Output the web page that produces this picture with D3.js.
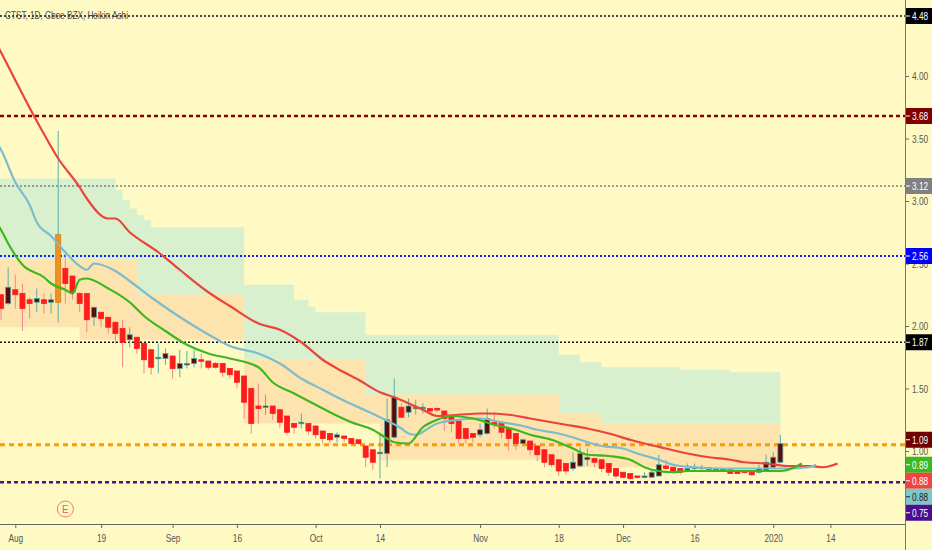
<!DOCTYPE html>
<html><head><meta charset="utf-8">
<script src="https://cdn.jsdelivr.net/npm/d3@7/dist/d3.min.js"></script>
<style>
html,body{margin:0;padding:0;background:#fff9c4;overflow:hidden}
svg{display:block}
text{font-family:'Liberation Sans',Arimo,sans-serif}
</style></head><body>
<svg id="c" width="932" height="550"></svg>
<script>
// ---------- DATA ----------
const title = "CTST, 1D, Cboe BZX, Heikin Ashi";
const holidays = ["2019-09-02","2019-11-28","2019-12-25","2020-01-01"];
const tickDates  = ["2019-08-01","2019-08-19","2019-09-03","2019-09-16","2019-10-01","2019-10-14","2019-11-01","2019-11-18","2019-12-02","2019-12-16","2020-01-02","2020-01-14"];
const tickLabels = ["Aug","19","Sep","16","Oct","14","Nov","18","Dec","16","2020","14"];
const priceTicks = [1.00,1.50,2.00,2.50,3.00,3.50,4.00];

// Heikin Ashi candles, one per trading day from 2019-07-30
const haOpen  = [2.25,2.18,2.29,2.26,2.21,2.19,2.21,2.19,2.19,2.46,2.40,2.26,2.26,2.07,2.11,2.07,2.03,1.98,1.89,1.91,1.86,1.81,1.74,1.74,1.76,1.66,1.69,1.70,1.73,1.72,1.70,1.70,1.66,1.64,1.60,1.50,1.36,1.35,1.36,1.33,1.28,1.22,1.22,1.22,1.20,1.16,1.14,1.11,1.12,1.10,1.09,1.04,1.01,0.98,0.98,1.11,1.35,1.31,1.34,1.34,1.34,1.34,1.32,1.28,1.24,1.18,1.14,1.13,1.14,1.23,1.22,1.18,1.14,1.06,1.08,1.04,1.01,0.97,0.93,0.90,0.86,0.88,0.93,0.94,0.93,0.90,0.86,0.83,0.82,0.80,0.79,0.79,0.80,0.88,0.87,0.86,0.85,0.86,0.86,0.865,0.86,0.86,0.85,0.84,0.84,0.83,0.83,0.84,0.87,0.91];
const haHigh  = [2.25,2.47,2.41,2.34,2.23,2.30,2.26,2.26,3.56,2.58,2.40,2.27,2.26,2.15,2.11,2.07,2.03,2.05,1.99,1.91,1.86,1.81,1.86,1.82,1.76,1.81,1.80,1.81,1.78,1.72,1.71,1.70,1.66,1.64,1.60,1.50,1.54,1.45,1.36,1.33,1.28,1.22,1.30,1.22,1.20,1.16,1.14,1.15,1.12,1.10,1.09,1.04,1.01,1.14,1.42,1.58,1.38,1.42,1.41,1.38,1.34,1.35,1.32,1.28,1.24,1.18,1.14,1.22,1.34,1.31,1.22,1.18,1.14,1.10,1.08,1.04,1.01,0.97,0.93,0.90,0.99,1.03,1.02,0.94,0.93,0.90,0.86,0.83,0.82,0.80,0.83,0.84,0.97,0.93,0.87,0.86,0.90,0.90,0.89,0.87,0.87,0.86,0.85,0.84,0.84,0.83,0.89,0.97,0.99,1.13];
const haLow   = [2.05,2.17,2.14,1.96,2.06,2.11,2.10,2.10,2.03,2.18,2.21,2.11,1.95,2.00,1.99,1.94,1.86,1.67,1.83,1.78,1.62,1.61,1.62,1.69,1.58,1.59,1.66,1.67,1.66,1.65,1.66,1.59,1.58,1.50,1.26,1.14,1.22,1.29,1.25,1.18,1.13,1.14,1.18,1.13,1.10,1.06,1.06,1.07,1.07,1.05,1.05,0.87,0.85,0.78,0.87,1.10,1.27,1.27,1.29,1.30,1.31,1.31,1.16,1.15,1.06,1.06,1.07,1.11,1.13,1.18,1.10,1.00,1.01,1.05,0.97,0.92,0.87,0.87,0.80,0.81,0.84,0.87,0.88,0.87,0.83,0.80,0.78,0.78,0.77,0.78,0.78,0.79,0.80,0.85,0.82,0.81,0.84,0.84,0.85,0.83,0.84,0.84,0.82,0.82,0.82,0.80,0.82,0.83,0.86,0.90];
const haClose = [2.14,2.31,2.25,2.14,2.18,2.22,2.18,2.21,2.73,2.34,2.27,2.18,2.05,2.15,2.06,1.99,1.94,1.87,1.93,1.82,1.73,1.67,1.75,1.78,1.66,1.70,1.70,1.74,1.72,1.67,1.67,1.63,1.61,1.55,1.39,1.22,1.34,1.36,1.30,1.23,1.15,1.19,1.23,1.16,1.13,1.10,1.09,1.13,1.10,1.06,1.06,0.95,0.91,0.99,1.25,1.43,1.27,1.36,1.35,1.35,1.32,1.33,1.26,1.22,1.10,1.10,1.11,1.17,1.26,1.21,1.15,1.10,1.06,1.09,1.01,0.97,0.91,0.89,0.84,0.84,0.91,0.98,0.95,0.91,0.86,0.83,0.80,0.79,0.78,0.79,0.80,0.83,0.89,0.86,0.83,0.83,0.86,0.87,0.87,0.855,0.85,0.85,0.82,0.82,0.83,0.81,0.86,0.91,0.95,1.06];
const highlightBar = 8; // bar painted orange

// displaced moving averages (bar index, value)
const jawIdx  = [-1,0,5,8,11,12,15,16,18,22,25,29,32,36,39,42,45,47,50,53,55,59,61,64,67,68,71,74,76,79,82,85,88,90,93,96,99,102,104,107,110,113,115,117];
const jawVal  = [4.30,4.19,3.64,3.34,3.11,3.02,2.86,2.86,2.75,2.59,2.45,2.27,2.16,2.02,1.97,1.87,1.73,1.66,1.57,1.47,1.43,1.33,1.28,1.29,1.30,1.30,1.29,1.26,1.24,1.21,1.18,1.14,1.09,1.06,1.02,0.98,0.95,0.93,0.91,0.90,0.88,0.88,0.87,0.90];
const teethIdx = [-1,0,2,4,5,7,9,11,12,13,16,18,21,24,27,30,32,36,39,42,45,47,50,53,56,57,58,60,61,64,67,70,73,75,78,81,84,87,89,92,94,97,101,104,107,110,113,114];
const teethVal = [3.50,3.41,3.15,2.97,2.83,2.72,2.59,2.48,2.45,2.50,2.44,2.36,2.23,2.11,2.00,1.90,1.84,1.78,1.70,1.58,1.49,1.43,1.35,1.27,1.18,1.14,1.13,1.19,1.22,1.25,1.26,1.23,1.20,1.17,1.14,1.09,1.04,1.02,0.98,0.93,0.89,0.87,0.86,0.86,0.86,0.86,0.87,0.89];
const lipsIdx = [-1,0,1,3,6,7,9,10,11,12,15,18,20,23,26,29,32,36,38,41,44,46,49,52,54,55,57,59,61,63,66,69,72,74,77,80,82,85,88,90,91,94,96,100,103,106,109,111,112];
const lipsVal = [2.86,2.77,2.66,2.49,2.39,2.34,2.29,2.26,2.37,2.38,2.30,2.19,2.08,1.96,1.85,1.78,1.74,1.67,1.55,1.46,1.37,1.31,1.23,1.17,1.10,1.07,1.06,1.19,1.25,1.28,1.26,1.21,1.17,1.13,1.09,1.02,0.97,0.96,0.93,0.87,0.85,0.83,0.84,0.84,0.84,0.84,0.84,0.87,0.90];

// channel bands (step lines)
const bandIdx   = [-1,11,15,16,17,18,19,20,21,34,41,43,44,51,53,78,81,84,95,102,109];
const bandUpper = [3.18,3.18,3.18,3.09,3.01,2.94,2.89,2.85,2.79,2.33,2.21,2.15,2.11,1.93,1.93,1.77,1.71,1.67,1.65,1.63,1.62];
const bandMid   = [2.53,2.53,2.53,2.53,2.53,2.53,2.25,2.25,2.25,1.73,1.73,1.73,1.73,1.45,1.45,1.30,1.30,1.22,1.22,1.22,1.22];
const bandLower = [1.99,1.89,1.89,1.89,1.89,1.89,1.89,1.89,1.89,1.22,1.22,1.22,1.22,1.22,0.93,0.87,0.87,0.87,0.87,0.87,0.87];

// horizontal levels
const levelValues = [4.48,3.68,3.12,2.56,1.87,1.05,0.75];
const levelNames  = ["black","darkred","gray","blue","black2","orange","purple"];

// right-hand price labels
const tagValues = [4.48,3.68,3.12,2.56,1.87,1.09,0.89,0.88,0.88,0.75];
const tagTexts  = ["4.48","3.68","3.12","2.56","1.87","1.09","0.89","0.88","0.88","0.75"];
const tagNames  = ["black","darkred","gray","blue","black2","last","lips","jaw","teeth","purple"];
const earningsBar = 9;

// ---------- STYLE ----------
const W = 932, H = 550, plotR = 905, plotB = 524;
const SQUEEZE = 0.72;
const levelStyle = {
  black:{c:"#111",w:1.5,d:"2,2"}, darkred:{c:"#8b0000",w:2.5,d:"4,3"}, gray:{c:"#7d7d7d",w:1.5,d:"2,2"},
  blue:{c:"#1515ff",w:2,d:"2,2"}, black2:{c:"#111",w:1.5,d:"2,2"}, orange:{c:"#ff9a00",w:3,d:"5,4"},
  purple:{c:"#4a1486",w:2.5,d:"4,3"}
};
const tagStyle = {
  black:{bg:"#000",fg:"#fff"}, darkred:{bg:"#800000",fg:"#fff"}, gray:{bg:"#808080",fg:"#fff"},
  blue:{bg:"#0000ff",fg:"#fff"}, black2:{bg:"#000",fg:"#fff"}, last:{bg:"#6e0000",fg:"#fff"},
  lips:{bg:"#3db824",fg:"#fff"}, jaw:{bg:"#ee4444",fg:"#fff"}, teeth:{bg:"#7fc6c8",fg:"#222"},
  purple:{bg:"#4a0e8f",fg:"#fff"}
};
function squeeze(sel, f) {
  sel.each(function () {
    const len = this.getComputedTextLength();
    if (len > 0) d3.select(this).attr("textLength", len * f).attr("lengthAdjust", "spacingAndGlyphs");
  });
}

// ---------- BUILD ----------
const parse = d3.utcParse("%Y-%m-%d"), fmt = d3.utcFormat("%Y-%m-%d");
const tradingDays = d3.utcDay.range(parse("2019-07-30"), parse("2020-02-01"))
  .filter(d => d.getUTCDay() !== 0 && d.getUTCDay() !== 6 && !holidays.includes(fmt(d)))
  .map(fmt);
const tickIdx = tickDates.map(d => tradingDays.indexOf(d));

const x = d3.scaleLinear().domain([-0.14, 126.43]).range([0, plotR]);
const y = d3.scaleLinear().domain([0.416, 4.608]).range([plotB, 0]);

const svg = d3.select("#c");
svg.append("rect").attr("width", W).attr("height", H).attr("fill", "#fff9c4");
svg.append("clipPath").attr("id", "clip").append("rect").attr("x", 0).attr("y", 0).attr("width", plotR).attr("height", plotB);
const plot = svg.append("g").attr("clip-path", "url(#clip)");

// bands
const band = bandIdx.map((k, i) => ({k, u: bandUpper[i], m: bandMid[i], l: bandLower[i]}));
plot.append("path").datum(band).attr("fill", "#d9f0cf")
  .attr("d", d3.area().curve(d3.curveStepAfter).x(d => x(d.k)).y0(d => y(d.m)).y1(d => y(d.u)));
plot.append("path").datum(band).attr("fill", "#fde3ae")
  .attr("d", d3.area().curve(d3.curveStepAfter).x(d => x(d.k)).y0(d => y(d.l)).y1(d => y(d.m)));

// title (under the level line, as in the reference)
const tt = svg.append("text").attr("x", 5).attr("y", 19).attr("font-size", 11.5).attr("fill", "#4a4a4a").text(title);
tt.attr("textLength", 123).attr("lengthAdjust", "spacingAndGlyphs");

// levels
levelValues.forEach((v, i) => {
  const s = levelStyle[levelNames[i]];
  plot.append("line").attr("x1", 0).attr("x2", plotR).attr("y1", y(v)).attr("y2", y(v))
    .attr("stroke", s.c).attr("stroke-width", s.w).attr("stroke-dasharray", s.d);
});

// candles
const bw = 5;
const candles = haOpen.map((o, k) => ({k, o, h: haHigh[k], l: haLow[k], c: haClose[k]}));
const cg = plot.append("g");
candles.forEach(d => {
  const up = d.c >= d.o;
  const hl = d.k === highlightBar;
  const wick = up ? "#58b0aa" : "#f08a8a";
  cg.append("line").attr("x1", x(d.k)).attr("x2", x(d.k)).attr("y1", y(d.h)).attr("y2", y(d.l))
    .attr("stroke", wick).attr("stroke-width", 1);
  const top = y(Math.max(d.o, d.c)), bot = y(Math.min(d.o, d.c));
  cg.append("rect").attr("x", x(d.k) - bw / 2).attr("y", top).attr("width", bw)
    .attr("height", Math.max(1.5, bot - top))
    .attr("fill", hl ? "#ee9220" : (up ? "#5a0c0c" : "#ff1c1c"))
    .attr("stroke", hl ? "#d07a10" : (up ? "#4fa8a2" : "#ff1c1c")).attr("stroke-width", 0.8);
});

// moving average lines
function maLine(idx, val, color) {
  plot.append("path").datum(idx.map((k, i) => [k, val[i]])).attr("fill", "none")
    .attr("stroke", color).attr("stroke-width", 2.2).attr("stroke-linejoin", "round")
    .attr("d", d3.line().curve(d3.curveMonotoneX).x(d => x(d[0])).y(d => y(d[1])));
}
maLine(jawIdx, jawVal, "#e8453d");
maLine(teethIdx, teethVal, "#7dbccb");
maLine(lipsIdx, lipsVal, "#3cb81e");

// earnings marker
const eg = svg.append("g").attr("transform", `translate(${x(earningsBar)},509)`);
eg.append("circle").attr("r", 8).attr("fill", "none").attr("stroke", "#f07a7a").attr("stroke-width", 1);
eg.append("text").attr("text-anchor", "middle").attr("dy", "0.35em").attr("font-size", 10).attr("fill", "#e35d5d").text("E");

// bottom axis
const xAxis = d3.axisBottom(x).tickValues(tickIdx).tickFormat((d, i) => tickLabels[i]).tickSize(4).tickPadding(6);
const gx = svg.append("g").attr("transform", `translate(0,${plotB})`).call(xAxis);
gx.select(".domain").attr("stroke", "#666").attr("d", `M0,0.5H${plotR}`);
gx.selectAll(".tick line").attr("stroke", "#666");
gx.selectAll(".tick text").attr("fill", "#555").attr("font-size", 11.5).attr("font-family", "'Liberation Sans',sans-serif");
squeeze(gx.selectAll(".tick text"), SQUEEZE);

// right axis
const yAxis = d3.axisRight(y).tickValues(priceTicks).tickFormat(d3.format(".2f")).tickSize(4).tickPadding(3);
const gy = svg.append("g").attr("transform", `translate(${plotR},0)`).call(yAxis);
gy.select(".domain").remove();
gy.selectAll(".tick line").attr("stroke", "#666");
gy.selectAll(".tick text").attr("fill", "#555").attr("font-size", 11.5).attr("font-family", "'Liberation Sans',sans-serif");
squeeze(gy.selectAll(".tick text"), SQUEEZE);
svg.append("line").attr("x1", plotR + 0.5).attr("x2", plotR + 0.5).attr("y1", 0).attr("y2", H).attr("stroke", "#777");

// price tags with collision avoidance
const tagH = 16;
const tags = tagValues.map((v, i) => ({v, t: tagTexts[i], s: tagStyle[tagNames[i]], cy: y(v)}))
  .sort((a, b) => a.cy - b.cy);
for (let i = 1; i < tags.length; i++) {
  if (tags[i].cy < tags[i - 1].cy + tagH) tags[i].cy = tags[i - 1].cy + tagH;
}
tags.forEach(d => {
  const g = svg.append("g").attr("transform", `translate(${plotR + 1},${d.cy})`);
  g.append("rect").attr("x", 0).attr("y", -tagH / 2).attr("width", W - plotR).attr("height", tagH).attr("fill", d.s.bg);
  g.append("line").attr("x1", 0).attr("x2", 4).attr("stroke", d.s.fg).attr("stroke-width", 1);
  const t = g.append("text").attr("x", 6).attr("dy", "0.36em").attr("font-size", 11.5).attr("fill", d.s.fg).text(d.t);
  squeeze(t, SQUEEZE);
});
</script>
</body></html>
